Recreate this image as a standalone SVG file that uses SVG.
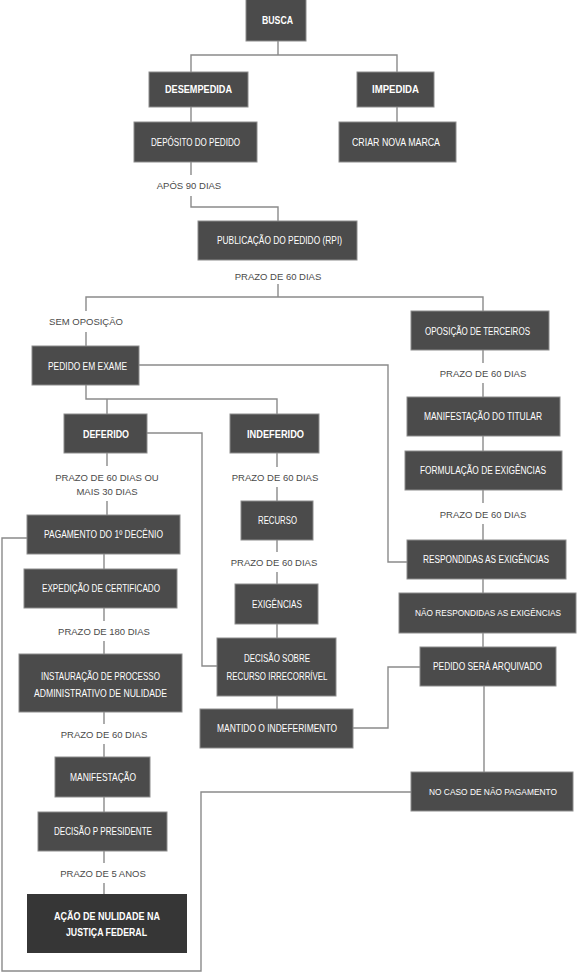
<svg xmlns="http://www.w3.org/2000/svg" width="577" height="973" viewBox="0 0 577 973">
<style>
.bg{fill:#ffffff}
.box{fill:#4b4b4b;stroke:#8c8c8c;stroke-width:1}
.dark{fill:#363636;stroke:none}
.t{font-family:"Liberation Sans",Arial,sans-serif;font-size:11px;fill:#ffffff;text-anchor:middle}
.s{font-size:10px}
.xs{font-size:9px}
.b{font-weight:bold}
.lbl{font-family:"Liberation Sans",Arial,sans-serif;font-size:9.5px;fill:#4a4a4a;text-anchor:middle}
.ln{fill:none;stroke:#8a8a8a;stroke-width:1.4}
</style>
<rect class="bg" x="0" y="0" width="577" height="973"/>
<g id="connectors">
<path class="ln" d="M191,72 V55 H397 V72 M278,41 V55"/>
<path class="ln" d="M191,107 V122 M397,107 V122"/>
<path class="ln" d="M191,162 V175 M191,196 V207 H278 V221"/>
<path class="ln" d="M278,284 V297"/>
<path class="ln" d="M86,311 V297 H483 V311 M86,332 V346"/>
<path class="ln" d="M483,350 V363 M483,383 V397"/>
<path class="ln" d="M483,436 V451"/>
<path class="ln" d="M483,490 V503 M483,524 V540"/>
<path class="ln" d="M483,579 V593 M483,633 V647 M484,686 V772"/>
<path class="ln" d="M139,365 H388 V562 H407"/>
<path class="ln" d="M86,385 V399 H277 V414 M107,399 V414"/>
<path class="ln" d="M147,433 H202 V666 H217"/>
<path class="ln" d="M107,453 V466 M107,501 V515"/>
<path class="ln" d="M104,554 V569 M104,608 V621 M104,641 V654"/>
<path class="ln" d="M104,712 V724 M104,744 V757 M104,797 V812"/>
<path class="ln" d="M104,851 V863 M104,883 V894"/>
<path class="ln" d="M277,453 V467 M277,487 V501 M277,540 V552 M277,572 V584 M277,624 V638 M277,696 V709"/>
<path class="ln" d="M353,728 H388 V667 H420"/>
<path class="ln" d="M27,538 H2 V971 H201 V792 H411"/>
</g>
<g id="labels">
<text class="lbl" x="189" y="189">APÓS 90 DIAS</text>
<text class="lbl" x="278" y="280">PRAZO DE 60 DIAS</text>
<text class="lbl" x="86" y="325">SEM OPOSIÇÃO</text>
<text class="lbl" x="483" y="377">PRAZO DE 60 DIAS</text>
<text class="lbl" x="107" y="481">PRAZO DE 60 DIAS OU</text>
<text class="lbl" x="107" y="495">MAIS 30 DIAS</text>
<text class="lbl" x="275" y="481">PRAZO DE 60 DIAS</text>
<text class="lbl" x="483" y="518">PRAZO DE 60 DIAS</text>
<text class="lbl" x="274" y="566">PRAZO DE 60 DIAS</text>
<text class="lbl" x="104" y="635">PRAZO DE 180 DIAS</text>
<text class="lbl" x="104" y="738">PRAZO DE 60 DIAS</text>
<text class="lbl" x="103" y="877">PRAZO DE 5 ANOS</text>
</g>
<g id="busca"><rect class="box" x="246" y="-1" width="60" height="42"/><text class="t b" x="277.5" y="24" textLength="31" lengthAdjust="spacingAndGlyphs">BUSCA</text></g>
<g id="desempedida"><rect class="box" x="149" y="72" width="99" height="35"/><text class="t b" x="198.5" y="93" textLength="67" lengthAdjust="spacingAndGlyphs">DESEMPEDIDA</text></g>
<g id="impedida"><rect class="box" x="357" y="72" width="77" height="35"/><text class="t b" x="395.5" y="93" textLength="47" lengthAdjust="spacingAndGlyphs">IMPEDIDA</text></g>
<g id="deposito"><rect class="box" x="134" y="122" width="123" height="40"/><text class="t" x="195.5" y="146" textLength="89" lengthAdjust="spacingAndGlyphs">DEPÓSITO DO PEDIDO</text></g>
<g id="criar"><rect class="box" x="339" y="122" width="117" height="40"/><text class="t" x="396" y="146" textLength="88" lengthAdjust="spacingAndGlyphs">CRIAR NOVA MARCA</text></g>
<g id="publicacao"><rect class="box" x="198" y="221" width="159" height="39"/><text class="t" x="279.5" y="244" textLength="125" lengthAdjust="spacingAndGlyphs">PUBLICAÇÃO DO PEDIDO (RPI)</text></g>
<g id="oposicao"><rect class="box" x="411" y="311" width="138" height="39"/><text class="t s" x="477.5" y="335" textLength="105" lengthAdjust="spacingAndGlyphs">OPOSIÇÃO DE TERCEIROS</text></g>
<g id="pedido-exame"><rect class="box" x="32" y="346" width="107" height="39"/><text class="t" x="87.5" y="370" textLength="79" lengthAdjust="spacingAndGlyphs">PEDIDO EM EXAME</text></g>
<g id="manif-titular"><rect class="box" x="407" y="397" width="153" height="39"/><text class="t s" x="483" y="420" textLength="118" lengthAdjust="spacingAndGlyphs">MANIFESTAÇÃO DO TITULAR</text></g>
<g id="deferido"><rect class="box" x="64" y="414" width="83" height="39"/><text class="t b" x="106" y="438" textLength="46" lengthAdjust="spacingAndGlyphs">DEFERIDO</text></g>
<g id="indeferido"><rect class="box" x="230" y="414" width="89" height="39"/><text class="t b" x="275.5" y="438" textLength="57" lengthAdjust="spacingAndGlyphs">INDEFERIDO</text></g>
<g id="formulacao"><rect class="box" x="405" y="451" width="157" height="39"/><text class="t s" x="483" y="474" textLength="126" lengthAdjust="spacingAndGlyphs">FORMULAÇÃO DE EXIGÊNCIAS</text></g>
<g id="recurso"><rect class="box" x="241" y="501" width="72" height="39"/><text class="t" x="277.5" y="524" textLength="39" lengthAdjust="spacingAndGlyphs">RECURSO</text></g>
<g id="pagamento"><rect class="box" x="27" y="515" width="153" height="39"/><text class="t" x="103.5" y="538" textLength="119" lengthAdjust="spacingAndGlyphs">PAGAMENTO DO 1º DECÊNIO</text></g>
<g id="respondidas"><rect class="box" x="407" y="540" width="159" height="39"/><text class="t s" x="486" y="563" textLength="126" lengthAdjust="spacingAndGlyphs">RESPONDIDAS AS EXIGÊNCIAS</text></g>
<g id="expedicao"><rect class="box" x="24" y="569" width="153" height="39"/><text class="t" x="101" y="592" textLength="118" lengthAdjust="spacingAndGlyphs">EXPEDIÇÃO DE CERTIFICADO</text></g>
<g id="exigencias"><rect class="box" x="235" y="584" width="83" height="40"/><text class="t" x="277" y="608" textLength="50" lengthAdjust="spacingAndGlyphs">EXIGÊNCIAS</text></g>
<g id="nao-respondidas"><rect class="box" x="399" y="593" width="177" height="40"/><text class="t xs" x="488" y="616" textLength="146" lengthAdjust="spacingAndGlyphs">NÃO RESPONDIDAS AS EXIGÊNCIAS</text></g>
<g id="decisao-recurso"><rect class="box" x="217" y="638" width="119" height="58"/><text class="t" x="277" y="662" textLength="66" lengthAdjust="spacingAndGlyphs">DECISÃO SOBRE</text><text class="t" x="277" y="680" textLength="101" lengthAdjust="spacingAndGlyphs">RECURSO IRRECORRÍVEL</text></g>
<g id="arquivado"><rect class="box" x="420" y="647" width="136" height="39"/><text class="t s" x="487.5" y="670" textLength="109" lengthAdjust="spacingAndGlyphs">PEDIDO SERÁ ARQUIVADO</text></g>
<g id="instauracao"><rect class="box" x="19" y="654" width="163" height="58"/><text class="t" x="100.5" y="680" textLength="119" lengthAdjust="spacingAndGlyphs">INSTAURAÇÃO DE PROCESSO</text><text class="t s" x="100.5" y="697" textLength="133" lengthAdjust="spacingAndGlyphs">ADMINISTRATIVO DE NULIDADE</text></g>
<g id="mantido"><rect class="box" x="200" y="709" width="153" height="39"/><text class="t" x="277" y="732" textLength="120" lengthAdjust="spacingAndGlyphs">MANTIDO O INDEFERIMENTO</text></g>
<g id="manifestacao"><rect class="box" x="55" y="757" width="95" height="40"/><text class="t" x="103" y="781" textLength="66" lengthAdjust="spacingAndGlyphs">MANIFESTAÇÃO</text></g>
<g id="nao-pagamento"><rect class="box" x="411" y="772" width="162" height="39"/><text class="t xs" x="493" y="795" textLength="128" lengthAdjust="spacingAndGlyphs">NO CASO DE NÃO PAGAMENTO</text></g>
<g id="decisao-presidente"><rect class="box" x="38" y="812" width="129" height="39"/><text class="t" x="103" y="835" textLength="98" lengthAdjust="spacingAndGlyphs">DECISÃO P PRESIDENTE</text></g>
<g id="acao-nulidade"><rect class="dark" x="27" y="894" width="160" height="59"/><text class="t b" x="107" y="920" textLength="106" lengthAdjust="spacingAndGlyphs">AÇÃO DE NULIDADE NA</text><text class="t b" x="106.5" y="936" textLength="81" lengthAdjust="spacingAndGlyphs">JUSTIÇA FEDERAL</text></g>
</svg>
